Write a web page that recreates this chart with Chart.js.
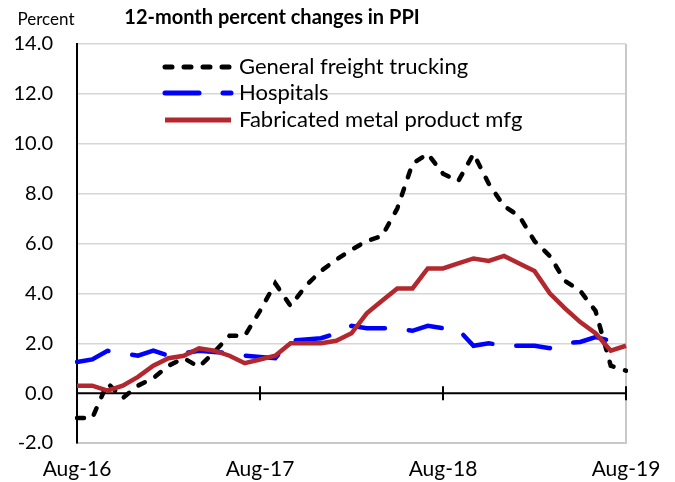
<!DOCTYPE html>
<html>
<head>
<meta charset="utf-8">
<script src="https://cdn.jsdelivr.net/npm/chart.js@4/dist/chart.umd.min.js"></script>
<style>
  html,body{margin:0;padding:0;background:#fff;}
  #wrap{width:675px;height:482px;}
</style>
</head>
<body>
<div id="wrap"><canvas id="c" width="675" height="482"></canvas></div>
<script>
const months = ['Aug-16','Sep-16','Oct-16','Nov-16','Dec-16','Jan-17','Feb-17','Mar-17','Apr-17','May-17','Jun-17','Jul-17',
  'Aug-17','Sep-17','Oct-17','Nov-17','Dec-17','Jan-18','Feb-18','Mar-18','Apr-18','May-18','Jun-18','Jul-18',
  'Aug-18','Sep-18','Oct-18','Nov-18','Dec-18','Jan-19','Feb-19','Mar-19','Apr-19','May-19','Jun-19','Jul-19','Aug-19'];
const tickLabels = ['Aug-16','Aug-17','Aug-18','Aug-19'];
const yTicks = [-2,0,2,4,6,8,10,12,14];

const trucking = [-1.0,-1.0,0.4,-0.2,0.3,0.6,1.1,1.4,1.05,1.65,2.3,2.3,
  3.3,4.4,3.5,4.3,4.9,5.35,5.75,6.1,6.3,7.4,9.2,9.6,
  8.8,8.5,9.6,8.4,7.5,7.1,6.1,5.5,4.5,4.1,3.3,1.1,0.9];
const hospitals = [1.25,1.35,1.7,1.6,1.5,1.7,1.5,1.6,1.7,1.65,1.6,1.5,
  1.45,1.4,2.1,2.15,2.2,2.4,2.7,2.6,2.6,2.6,2.5,2.7,
  2.6,2.55,1.9,2.0,1.9,1.9,1.9,1.8,2.0,2.05,2.25,2.1,null];
const metal = [0.3,0.3,0.1,0.3,0.65,1.1,1.4,1.5,1.8,1.7,1.5,1.2,
  1.35,1.5,2.0,2.0,2.0,2.1,2.4,3.2,3.7,4.2,4.2,5.0,
  5.0,5.2,5.4,5.3,5.5,5.2,4.9,4.0,3.4,2.85,2.4,1.7,1.9];

const FONT = 'Lato, "Open Sans", sans-serif';

const deco = {
  id: 'deco',
  beforeDatasetsDraw(chart) {
    const {ctx, chartArea: a, scales: {x, y}} = chart;
    ctx.save();
    ctx.strokeStyle = '#c9c9c9';
    ctx.lineWidth = 2;
    ctx.beginPath();
    ctx.moveTo(a.right, a.top);
    ctx.lineTo(a.right, a.bottom);
    ctx.stroke();
    const y0 = y.getPixelForValue(0);
    ctx.strokeStyle = '#000';
    ctx.lineWidth = 2;
    ctx.beginPath();
    ctx.moveTo(a.left, y0);
    ctx.lineTo(a.right, y0);
    months.forEach((m, i) => {
      if (tickLabels.includes(m)) {
        const px = x.getPixelForValue(i);
        ctx.moveTo(px, y0 - 7);
        ctx.lineTo(px, y0 + 7);
      }
    });
    ctx.stroke();
    ctx.restore();
  },
  afterDraw(chart) {
    const {ctx} = chart;
    ctx.save();
    ctx.fillStyle = '#000';
    ctx.textBaseline = 'middle';
    ctx.textAlign = 'center';
    ctx.font = 'bold 20px ' + FONT;
    ctx.fillText('12-month percent changes in PPI', 272, 18);
    ctx.font = '17px ' + FONT;
    ctx.fillText('Percent', 46, 20);
    const ds = chart.data.datasets;
    const legendY = [67, 93, 120];
    ds.forEach((d, i) => {
      const yy = legendY[i];
      ctx.strokeStyle = d.borderColor;
      ctx.lineWidth = 5;
      ctx.lineCap = d.borderCapStyle || 'butt';
      ctx.setLineDash(d.borderDash || []);
      ctx.beginPath();
      ctx.moveTo(165, yy);
      ctx.lineTo(231, yy);
      ctx.stroke();
      ctx.setLineDash([]);
      ctx.fillStyle = '#000';
      ctx.textAlign = 'left';
      ctx.font = '22px ' + FONT;
      ctx.fillText(d.label, 239, yy);
    });
    ctx.restore();
  }
};

new Chart(document.getElementById('c'), {
  type: 'line',
  data: {
    labels: months,
    datasets: [
      {label: 'General freight trucking', data: trucking, borderColor: '#000000', borderWidth: 4.5,
       borderDash: [7, 12], borderCapStyle: 'round', pointRadius: 0, tension: 0, fill: false, order: 1},
      {label: 'Hospitals', data: hospitals, borderColor: '#0000FF', borderWidth: 4.5,
       borderDash: [34, 24], borderCapStyle: 'round', pointRadius: 0, tension: 0, fill: false, order: 2},
      {label: 'Fabricated metal product mfg', data: metal, borderColor: '#B3282E', borderWidth: 4.5,
       pointRadius: 0, tension: 0, fill: false, order: 0}
    ]
  },
  plugins: [deco],
  options: {
    responsive: false,
    animation: false,
    layout: {padding: {left: 0, right: 49, top: 44, bottom: 0}},
    plugins: {legend: {display: false}, title: {display: false}, tooltip: {enabled: false}},
    scales: {
      x: {
        offset: false,
        grid: {display: false, drawTicks: false},
        border: {display: true, color: '#c9c9c9', width: 2},
        ticks: {
          autoSkip: false, maxRotation: 0, minRotation: 0, padding: 14,
          color: '#000', font: {family: FONT, size: 21},
          callback: function(v, i) { const l = months[i]; return tickLabels.includes(l) ? l : ''; }
        },
        afterFit: s => { s.height = 39; }
      },
      y: {
        min: -2, max: 14,
        afterBuildTicks: s => { s.ticks = yTicks.map(v => ({value: v})); },
        grid: {
          drawTicks: false, lineWidth: 1.5,
          color: c => (c.tick && c.tick.value === 0) ? 'rgba(0,0,0,0)' : '#d6d6d6'
        },
        border: {display: true, color: '#000', width: 2},
        ticks: {
          padding: 24, color: '#000', font: {family: FONT, size: 20},
          callback: v => Number(v).toFixed(1)
        },
        afterFit: s => { s.width = 77; }
      }
    }
  }
});
</script>
</body>
</html>
